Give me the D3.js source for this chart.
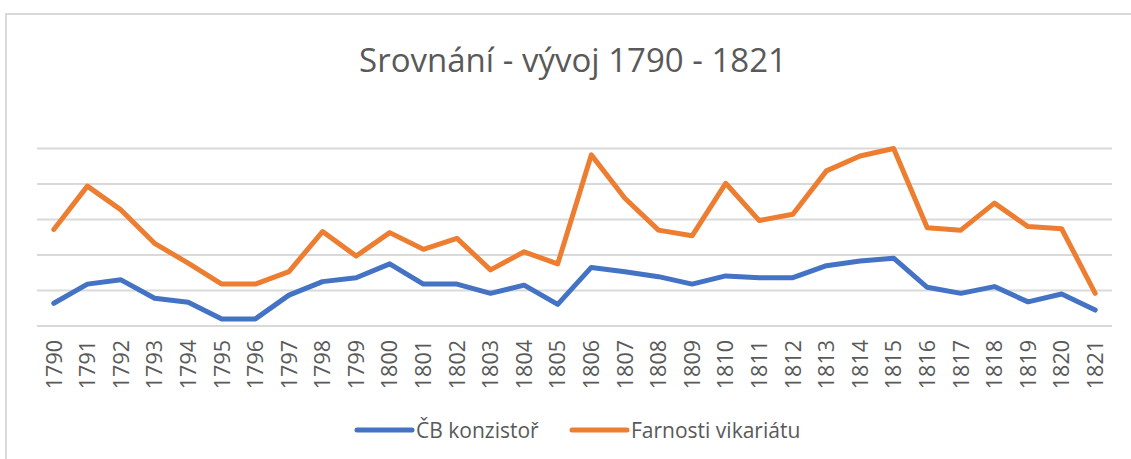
<!DOCTYPE html>
<html>
<head>
<meta charset="utf-8">
<script src="https://cdn.jsdelivr.net/npm/d3@7"></script>
<style>
  html, body { margin: 0; padding: 0; background: #fff; }
  svg { display: block; }
  text { font-family: "Open Sans", "Noto Sans", sans-serif; fill: #595959; }
</style>
</head>
<body>
<svg id="chart" width="1131" height="459"></svg>
<script>
const years = ["1790","1791","1792","1793","1794","1795","1796","1797","1798","1799","1800","1801","1802","1803","1804","1805","1806","1807","1808","1809","1810","1811","1812","1813","1814","1815","1816","1817","1818","1819","1820","1821"];
const konzistor = [64,118,130,78,67,20,20,87,125,136,175,118,118,92,115,61,165,153,139,118,141,136,136,170,183,191,109,92,111,68,90,45];
const farnosti = [272,394,327,233,177,118,118,153,266,197,263,216,247,158,209,175,482,360,270,254,402,297,315,437,479,500,277,270,346,280,274,92];
const gridTicks = [0,100,200,300,400,500];
const seriesNames = ["ČB konzistoř", "Farnosti vikariátu"];
const seriesColors = ["#4472C4", "#ED7D31"];
const titleText = "Srovnání - vývoj 1790 - 1821";

const svg = d3.select("#chart");

// chart border
svg.append("rect")
  .attr("x", 6).attr("y", 14)
  .attr("width", 1140).attr("height", 460)
  .attr("fill", "#fff")
  .attr("stroke", "#d9d9d9").attr("stroke-width", 2);

const x = d3.scaleBand().domain(years).range([37, 1112]).padding(0);
const y = d3.scaleLinear().domain([0, 500]).range([326, 148.5]);

// gridlines
svg.append("g")
  .selectAll("line")
  .data(gridTicks)
  .join("line")
  .attr("x1", 37).attr("x2", 1112)
  .attr("y1", d => y(d)).attr("y2", d => y(d))
  .attr("stroke", "#d9d9d9").attr("stroke-width", 2);

// x axis labels
const xAxis = d3.axisBottom(x).tickSize(0).tickPadding(0);
const gx = svg.append("g").attr("transform", "translate(0,326)").call(xAxis);
gx.select(".domain").remove();
gx.selectAll(".tick text")
  .attr("transform", "translate(0,14) rotate(-90)")
  .attr("text-anchor", "end")
  .attr("x", 0).attr("y", 0).attr("dy", "0.36em")
  .style("font-family", "'Open Sans', 'Noto Sans', sans-serif")
  .style("font-size", "21.5px")
  .attr("fill", "#595959");

// lines
const line = d3.line()
  .x((d, i) => x(years[i]) + x.bandwidth() / 2)
  .y(d => y(d));

[konzistor, farnosti].forEach((s, k) => {
  svg.append("path")
    .datum(s)
    .attr("d", line)
    .attr("fill", "none")
    .attr("stroke", seriesColors[k])
    .attr("stroke-width", 5)
    .attr("stroke-linejoin", "round")
    .attr("stroke-linecap", "round");
});

// title
svg.append("text")
  .attr("x", 573).attr("y", 72)
  .attr("text-anchor", "middle")
  .style("font-size", "33px")
  .text(titleText);

// legend
const legendX = [357, 572];
seriesNames.forEach((name, k) => {
  const g = svg.append("g").attr("transform", `translate(${legendX[k]},430)`);
  g.append("line")
    .attr("x1", 0).attr("x2", 55).attr("y1", 0).attr("y2", 0)
    .attr("stroke", seriesColors[k]).attr("stroke-width", 5)
    .attr("stroke-linecap", "round");
  g.append("text")
    .attr("x", 59).attr("y", 7.5)
    .style("font-size", "21px")
    .text(name);
});
</script>
</body>
</html>
